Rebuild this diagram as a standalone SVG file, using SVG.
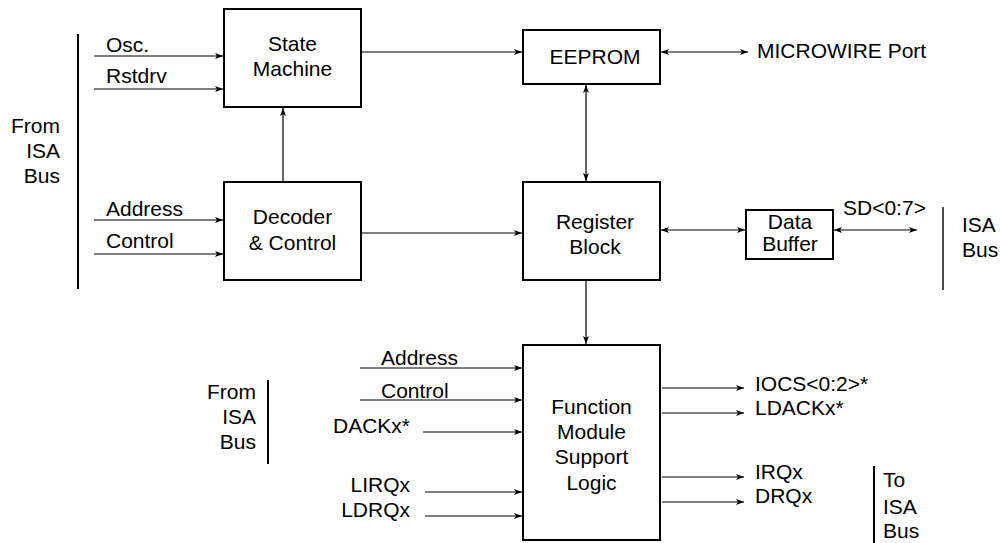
<svg xmlns="http://www.w3.org/2000/svg" width="1000" height="543" viewBox="0 0 1000 543">
<style>
.box{fill:#fff;stroke:#000;stroke-width:2}
.ln{fill:none;stroke:#000;stroke-width:1.2}
.bus{fill:none;stroke:#000;stroke-width:2}
.bus2{fill:none;stroke:#000;stroke-width:1.4}
text{font-family:"Liberation Sans",Arial,sans-serif;font-size:21px;fill:#000}
.c{text-anchor:middle}
.r{text-anchor:end}
</style>
<defs>
<marker id="ah" viewBox="0 0 8 6" refX="8" refY="3" markerWidth="8" markerHeight="6" markerUnits="userSpaceOnUse" orient="auto-start-reverse">
<path d="M0,0 L8,3 L0,6 L2,3 z" fill="#000"/>
</marker>
</defs>
<rect width="1000" height="543" fill="#fff"/>

<g id="labels-left">
<line class="bus" x1="78" y1="34" x2="78" y2="289"/>
<text class="r" x="60" y="133">From</text>
<text class="r" x="60" y="158">ISA</text>
<text class="r" x="60" y="183">Bus</text>
<text x="106" y="52">Osc.</text>
<text x="106" y="83">Rstdrv</text>
<text x="106" y="216">Address</text>
<text x="106" y="248">Control</text>
</g>

<g id="state-machine">
<rect class="box" x="224" y="9" width="137" height="98"/>
<text class="c" x="292.5" y="51">State</text>
<text class="c" x="292.5" y="76">Machine</text>
</g>

<g id="decoder">
<rect class="box" x="224" y="182" width="137" height="98"/>
<text class="c" x="292.5" y="224">Decoder</text>
<text class="c" x="292.5" y="250">&amp; Control</text>
</g>

<g id="eeprom">
<rect class="box" x="523" y="30" width="137" height="54"/>
<text class="c" x="595" y="64">EEPROM</text>
</g>
<text id="microwire" x="757" y="58">MICROWIRE Port</text>

<g id="register">
<rect class="box" x="523" y="182" width="137" height="98"/>
<text class="c" x="595" y="229">Register</text>
<text class="c" x="595" y="254">Block</text>
</g>

<g id="data-buffer">
<rect class="box" x="746" y="210" width="87" height="49"/>
<text class="c" x="790" y="229">Data</text>
<text class="c" x="790" y="251">Buffer</text>
</g>

<g id="isa-right">
<text x="843" y="215">SD&lt;0:7&gt;</text>
<line class="bus2" x1="943" y1="207" x2="943" y2="290"/>
<text x="962" y="232">ISA</text>
<text x="962" y="257">Bus</text>
</g>

<g id="function">
<rect class="box" x="523" y="345" width="137" height="195"/>
<text class="c" x="591.5" y="414">Function</text>
<text class="c" x="591.5" y="439">Module</text>
<text class="c" x="591.5" y="464">Support</text>
<text class="c" x="591.5" y="490">Logic</text>
</g>

<g id="labels-bottom-left">
<line class="bus" x1="268" y1="380" x2="268" y2="464"/>
<text class="r" x="256" y="399">From</text>
<text class="r" x="256" y="424">ISA</text>
<text class="r" x="256" y="449">Bus</text>
<text x="381" y="365">Address</text>
<text x="381" y="398">Control</text>
<text class="r" x="410" y="433">DACKx*</text>
<text class="r" x="410" y="492">LIRQx</text>
<text class="r" x="410" y="517">LDRQx</text>
</g>

<g id="labels-bottom-right">
<text x="755" y="391">IOCS&lt;0:2&gt;*</text>
<text x="755" y="415">LDACKx*</text>
<text x="755" y="479">IRQx</text>
<text x="755" y="503">DRQx</text>
<line class="bus" x1="874" y1="466" x2="874" y2="543"/>
<text x="883" y="487">To</text>
<text x="883" y="514">ISA</text>
<text x="883" y="538">Bus</text>
</g>

<g id="connectors">
<line class="ln" x1="94" y1="56" x2="223" y2="56" marker-end="url(#ah)"/>
<line class="ln" x1="94" y1="89" x2="223" y2="89" marker-end="url(#ah)"/>
<line class="ln" x1="94" y1="220" x2="223" y2="220" marker-end="url(#ah)"/>
<line class="ln" x1="94" y1="254" x2="223" y2="254" marker-end="url(#ah)"/>
<line class="ln" x1="283" y1="182" x2="283" y2="108" marker-end="url(#ah)"/>
<line class="ln" x1="362" y1="52" x2="522" y2="52" marker-end="url(#ah)"/>
<line class="ln" x1="362" y1="233" x2="522" y2="233" marker-end="url(#ah)"/>
<line class="ln" x1="661" y1="52" x2="748" y2="52" marker-start="url(#ah)" marker-end="url(#ah)"/>
<line class="ln" x1="586" y1="85" x2="586" y2="181" marker-start="url(#ah)" marker-end="url(#ah)"/>
<line class="ln" x1="661" y1="230" x2="745" y2="230" marker-start="url(#ah)" marker-end="url(#ah)"/>
<line class="ln" x1="834" y1="230" x2="917" y2="230" marker-start="url(#ah)" marker-end="url(#ah)"/>
<line class="ln" x1="586" y1="281" x2="586" y2="344" marker-end="url(#ah)"/>
<line class="ln" x1="360" y1="368" x2="522" y2="368" marker-end="url(#ah)"/>
<line class="ln" x1="360" y1="400" x2="522" y2="400" marker-end="url(#ah)"/>
<line class="ln" x1="423" y1="432" x2="522" y2="432" marker-end="url(#ah)"/>
<line class="ln" x1="425" y1="492" x2="522" y2="492" marker-end="url(#ah)"/>
<line class="ln" x1="425" y1="516" x2="522" y2="516" marker-end="url(#ah)"/>
<line class="ln" x1="662" y1="388" x2="744" y2="388" marker-end="url(#ah)"/>
<line class="ln" x1="662" y1="413" x2="744" y2="413" marker-end="url(#ah)"/>
<line class="ln" x1="662" y1="477" x2="744" y2="477" marker-end="url(#ah)"/>
<line class="ln" x1="662" y1="502" x2="744" y2="502" marker-end="url(#ah)"/>
</g>
</svg>
